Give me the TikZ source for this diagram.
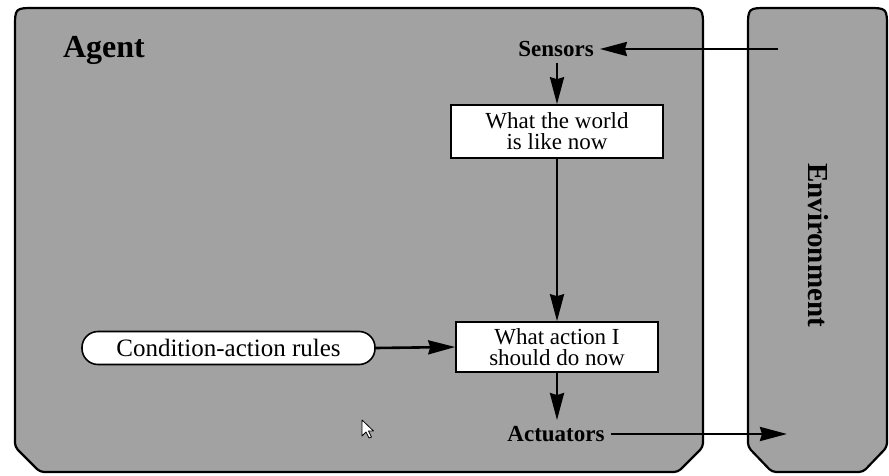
\documentclass[tikz,border=0pt]{standalone}
\usepackage{fontspec}
\setmainfont{Liberation Serif}
\usetikzlibrary{arrows.meta}
\definecolor{panelgray}{HTML}{A2A2A2}
\begin{document}
\begin{tikzpicture}[x=1pt,y=-1pt,
  panel/.style={draw=black, line width=2.2pt, fill=panelgray, line join=round, rounded corners=4pt},
  flow/.style={line width=2.6pt, -{Stealth[length=27pt,width=14pt,inset=2pt]}},
  tag/.style={font=\fontsize{23}{23}\bfseries\selectfont, inner sep=6pt},
  stage/.style={draw, line width=1.6pt, fill=white, align=center, inner sep=0pt,
                font=\fontsize{23}{21}\selectfont},
  rulebox/.style={draw, line width=1.6pt, fill=white, rounded corners=16pt, inner sep=0pt,
                  font=\fontsize{25}{25}\selectfont},
  big/.style={font=\fontsize{32}{32}\bfseries\selectfont},
]
\useasboundingbox (0,0) rectangle (889,476);

% agent panel: rounded top corners, chamfered bottom corners
\draw[panel] (15,447) -- (15,32) .. controls (15,8) .. (39,8) -- (679,8)
  .. controls (703,8) .. (703,32) -- (703,447) -- (678,472) -- (40,472) -- cycle;
% environment panel
\draw[panel] (748,447) -- (748,32) .. controls (748,8) .. (772,8) -- (863,8)
  .. controls (887,8) .. (887,32) -- (887,447) -- (863,472) -- (772,472) -- cycle;

\node[big] (agent) at (104,50) {Agent};
\node[big, font=\fontsize{29}{29}\bfseries\selectfont, rotate=-90] (env) at (818,245) {Environment};

\node[tag] (sensors) at (556,49) {Sensors};
\node[stage, minimum width=212pt, minimum height=53pt] (world) at (557,131.5) {What the world\\is like now};
\node[stage, minimum width=202pt, minimum height=50pt] (action) at (557,347) {What action I\\should do now};
\node[rulebox, minimum width=293pt, minimum height=33pt] (rules) at (228.5,348) {Condition-action rules};
\node[tag] (actuators) at (556,434) {Actuators};

\coordinate (envin) at (778,49);
\coordinate (envout) at (787,434);

\draw[flow] (envin) -- (sensors.east);
\draw[flow] (world.north |- sensors.south) -- (world.north);
\draw[flow] (world.south) -- (action.north);
\draw[flow] (rules.east) -- (action.west);
\draw[flow] (action.south) -- (action.south |- actuators.north);
\draw[flow] (actuators.east) -- (envout);

% mouse pointer
\draw[fill=white, line width=0.8pt, line join=round] (362,420) -- (362,436) -- (366,432)
  -- (369,438) -- (371.5,437) -- (368.5,431) -- (373.5,431) -- cycle;
\end{tikzpicture}
\end{document}
